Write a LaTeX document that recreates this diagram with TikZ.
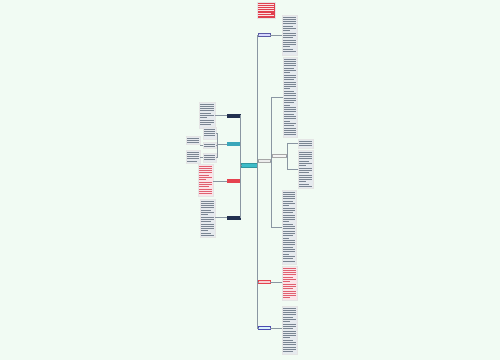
\documentclass[tikz,border=0pt]{standalone}
\usetikzlibrary{calc}
\definecolor{bg}{HTML}{F1FBF3}
\definecolor{blkfill}{HTML}{E6EAEE}
\definecolor{blkline}{HTML}{7A8592}
\definecolor{pinkfill}{HTML}{FBE4E8}
\definecolor{pinkline}{HTML}{E06070}
\definecolor{titlered}{HTML}{E0404E}
\definecolor{navy}{HTML}{22304F}
\definecolor{tealroot}{HTML}{3CBCC8}
\definecolor{tealnode}{HTML}{3AA6BA}
\definecolor{rednode}{HTML}{E5424F}
\definecolor{conn}{HTML}{8A96A2}
\tikzset{
  blk/.style={anchor=north west, inner sep=0pt, outer sep=0pt, draw=black!10, line width=0.2pt},
  topic/.style={anchor=north west, inner sep=0pt, outer sep=0pt, line width=0.3pt},
  link/.style={draw=conn, line width=0.45pt}
}
\newcommand\txtblk[7]{%
  \node[blk, fill=#6, minimum width=#4pt, minimum height=#5pt] (#1) at (#2,#3) {};
  \pgfmathtruncatemacro\nlines{(#5-1)/2.3}
  \foreach \k in {1,...,\nlines}{%
    \pgfmathsetmacro\lfr{mod(\k,7)==0 ? 0.5 : (mod(\k,5)==0 ? 0.8 : 1)}
    \draw[#7, line width=0.6pt] ($(#1.north west)+(1,\k*2.3-0.5)$) -- ++({\lfr*(#4-2)},0);
  }%
}
\newcommand\topicbox[7]{%
  \node[topic, fill=#6, draw=#7, minimum width=#4pt, minimum height=#5pt] (#1) at (#2,#3) {};
}
\begin{document}
\begin{tikzpicture}[x=1pt,y=-1pt]
\fill[bg] (0,0) rectangle (500,360);
\useasboundingbox (0,0) rectangle (500,360);

% title
\txtblk{title}{257}{2}{18}{16}{titlered}{white!85!titlered}

% root
\topicbox{root}{241}{163.5}{16}{4}{tealroot}{tealroot!80!black}

% ---------------- right side ----------------
\topicbox{r1}{258}{33.5}{12}{3}{blue!15!white}{blue!30!gray}
\txtblk{b1}{282}{15}{15}{40}{blkfill}{blkline}

\topicbox{ra}{258}{159.5}{12}{3}{gray!15}{gray!70}
\txtblk{b2}{283}{57}{14}{80}{blkfill}{blkline}
\topicbox{rb}{272}{154.5}{14}{3}{gray!8}{gray!70}
\txtblk{c1}{298}{139}{15}{9}{blkfill}{blkline}
\txtblk{c2}{298}{150}{15}{38}{blkfill}{blkline}
\txtblk{b3}{282}{190}{14}{74}{blkfill}{blkline}

\topicbox{rr}{258}{280.5}{12}{3}{rednode!25!white}{rednode}
\txtblk{pb}{282}{266}{15}{34}{pinkfill}{pinkline}

\topicbox{rbl}{258}{326.5}{12}{3}{cyan!15!white}{blue!40!gray}
\txtblk{b5}{282}{306}{15}{48}{blkfill}{blkline}

% right connectors
\coordinate (rj) at (257.5,165.5);
\draw[link] (root.east) -- (rj) |- (r1.west);
\draw[link] (rj) |- (ra.west);
\draw[link] (rj) |- (rr.west);
\draw[link] (rj) |- (rbl.west);
\draw[link] (r1.east) -- (b1.west |- r1.east);
\coordinate (aj) at (271,161);
\draw[link] (ra.east) -- (aj) |- (b2.west);
\draw[link] (aj) |- (rb.west);
\draw[link] (aj) |- (b3.west);
\coordinate (bj) at (287.5,156);
\draw[link] (rb.east) -- (bj) |- (c1.west);
\draw[link] (bj) |- (c2.west);
\draw[link] (rr.east) -- (pb.west |- rr.east);
\draw[link] (rbl.east) -- (b5.west |- rbl.east);

% ---------------- left side ----------------
\topicbox{l1}{227}{114}{13}{3}{navy}{navy}
\txtblk{lb1}{199}{102}{16}{26}{blkfill}{blkline}

\topicbox{l2}{227}{142.5}{13}{3}{tealnode}{tealnode}
\txtblk{lt1}{203}{127}{13}{12}{blkfill}{blkline}
\txtblk{lt2}{203}{142}{13}{6}{blkfill}{blkline}
\txtblk{ll2}{186}{136}{14}{8}{blkfill}{blkline}
\txtblk{lt3}{203}{153}{13}{9}{blkfill}{blkline}
\txtblk{ll3}{186}{150}{14}{13}{blkfill}{blkline}

\topicbox{l3}{227}{179.5}{13}{3}{rednode}{rednode}
\txtblk{lp}{198}{164}{15}{32}{pinkfill}{pinkline}

\topicbox{l4}{227}{216}{13}{3}{navy}{navy}
\txtblk{lb4}{200}{199}{15}{38}{blkfill}{blkline}

% left connectors
\coordinate (lj) at (240.5,165.5);
\draw[link] (root.west) -- (lj) |- (l1.east);
\draw[link] (lj) |- (l2.east);
\draw[link] (lj) |- (l3.east);
\draw[link] (lj) |- (l4.east);
\draw[link] (l1.west) -- (lb1.east |- l1.west);
\coordinate (tj) at (217.5,144);
\draw[link] (l2.west) -- (tj) |- (lt1.east);
\draw[link] (tj) |- (lt2.east);
\draw[link] (tj) |- (lt3.east);
\draw[link] (lt2.west) -- (ll2.east |- lt2.west);
\draw[link] (lt3.west) -- (ll3.east |- lt3.west);
\draw[link] (l3.west) -- (lp.east |- l3.west);
\draw[link] (l4.west) -- (lb4.east |- l4.west);
\end{tikzpicture}
\end{document}
